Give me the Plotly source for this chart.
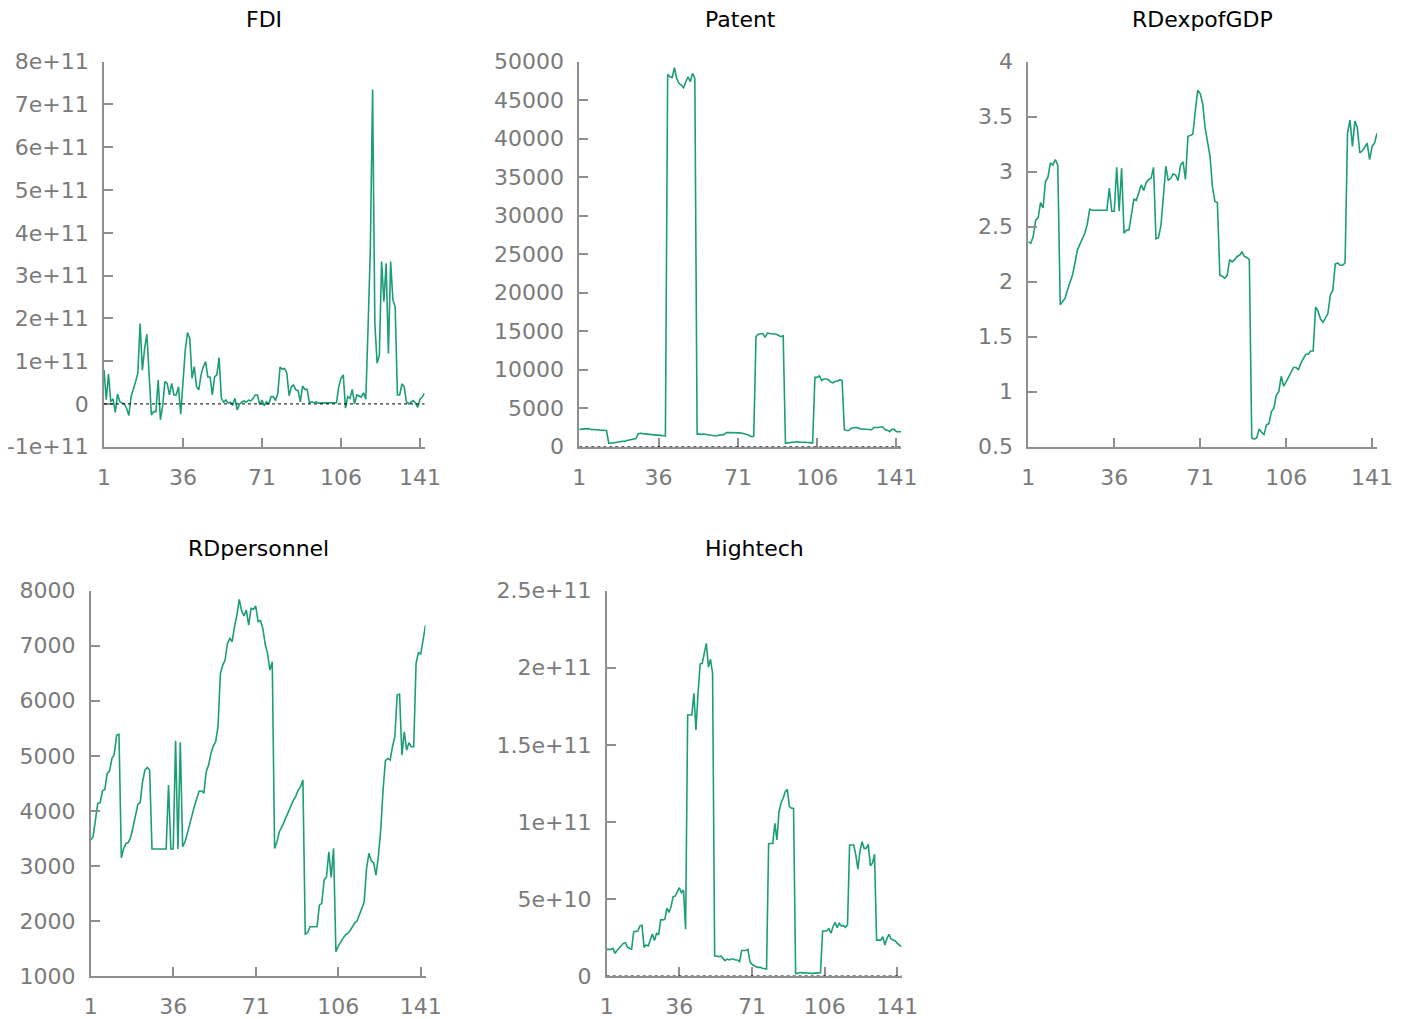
import plotly.graph_objects as go

# ---------------- data (143 observations, index 1..143) ----------------
FDI_e11 = [0.8, 0.1, 0.7, 0.05, 0.12, -0.2, 0.23, 0.05, 0.02, 0,
           -0.1, -0.27, 0.17, 0.33, 0.52, 0.72, 1.88, 0.79, 1.3, 1.63,
           0.52, -0.26, -0.18, -0.18, 0.56, -0.37, -0.04, 0.52, 0.48, 0.21,
           0.48, 0.21, 0.21, 0.4, -0.24, 0.63, 1.26, 1.67, 1.53, 0.6,
           0.87, 0.4, 0.33, 0.68, 0.87, 0.99, 0.63, 0.63, 0.21, 0.63,
           0.68, 1.08, 0.13, 0.04, 0.09, 0.02, 0.04, -0.02, 0.13, -0.14,
           -0.01, 0.04, 0.07, 0.04, 0.09, 0.07, 0.12, 0.21, 0.21, -0.02,
           0.09, -0.04, 0.05, -0.01, 0.17, 0.17, 0.08, 0.25, 0.86, 0.81,
           0.83, 0.72, 0.19, 0.4, 0.44, 0.33, 0.31, 0.05, 0.42, 0.34,
           0.34, 0.03, 0.05, 0.03, 0.05, 0.02, 0.02, 0.02, 0.03, 0.03,
           0.03, 0.03, 0.03, 0.03, 0.4, 0.6, 0.68, -0.1, 0.17, 0.13,
           0.34, 0, 0.21, 0.19, 0.16, 0.26, 0.11, 1.8, 3.6, 7.35,
           1.88, 0.95, 1.14, 3.33, 2.39, 3.29, 1.18, 3.33, 2.43, 2.27,
           0.21, 0.21, 0.47, 0.4, 0.05, 0, 0.05, 0.08, 0.02, -0.08, 0.11, 0.16, 0.25]

Patent = [2250, 2300, 2300, 2300, 2350, 2250, 2250, 2200, 2200, 2150, 2150, 2100, 2100,
          450, 450, 500, 550, 650, 650, 700, 700, 800, 850, 950, 1000, 1050,
          1700, 1750, 1700, 1650, 1650, 1650, 1600, 1550, 1500, 1500, 1450, 1450, 1400,
          48350, 48050, 47960, 49220, 47830, 47190, 46970, 46620, 47400, 48050, 47400, 48480, 47830,
          1600, 1650, 1600, 1650, 1600, 1550, 1500, 1400, 1400, 1450, 1500, 1500, 1600,
          1850, 1850, 1850, 1850, 1850, 1800, 1800, 1750, 1700, 1600, 1450, 1300, 1350,
          14300, 14600, 14700, 14700, 14200, 14750, 14700, 14650, 14700, 14600, 14450, 14300, 14400,
          450, 500, 550, 600, 650, 650, 600, 600, 600, 550, 550, 500, 500,
          9000, 9000, 9200, 8600, 8800, 8800, 8700, 8400, 8300, 8500, 8500, 8700, 8600,
          2200, 2100, 2100, 2400, 2500, 2500, 2450, 2300, 2300, 2250, 2250, 2200, 2200,
          2500, 2450, 2500, 2550, 2550, 2200, 2150, 1950, 2250, 2250, 1950, 1950, 1950]

RDexpofGDP = [2.36, 2.35, 2.41, 2.56, 2.58, 2.72, 2.67, 2.91, 2.95, 3.08, 3.06, 3.11, 3.06,
              1.79, 1.82, 1.85, 1.93, 1.99, 2.06, 2.17, 2.29, 2.34, 2.39, 2.44, 2.52, 2.66,
              2.65, 2.65, 2.65, 2.65, 2.65, 2.65, 2.65, 2.85, 2.64, 2.64, 3.04, 2.64, 3.03,
              2.44, 2.47, 2.47, 2.6, 2.75, 2.74, 2.81, 2.88, 2.83, 2.9, 2.93, 2.94, 3.04,
              2.39, 2.4, 2.51, 2.77, 3.05, 2.92, 2.94, 2.98, 2.97, 2.92, 3.06, 3.09, 2.93,
              3.32, 3.33, 3.34, 3.55, 3.74, 3.71, 3.62, 3.4, 3.27, 3.14, 2.86, 2.73, 2.72,
              2.06, 2.05, 2.03, 2.06, 2.2, 2.18, 2.2, 2.23, 2.24, 2.27, 2.23, 2.22, 2.2,
              0.58, 0.57, 0.58, 0.66, 0.63, 0.61, 0.7, 0.71, 0.82, 0.85, 0.97, 1.0, 1.14,
              1.05, 1.09, 1.13, 1.17, 1.22, 1.22, 1.2, 1.26, 1.3, 1.34, 1.34, 1.37, 1.37,
              1.77, 1.73, 1.66, 1.63, 1.67, 1.71, 1.88, 1.92, 2.16, 2.17, 2.15, 2.15, 2.17,
              3.35, 3.47, 3.23, 3.46, 3.4, 3.17, 3.19, 3.22, 3.26, 3.11, 3.23, 3.26, 3.35]

RDpersonnel = [3469, 3530, 3833, 4136, 4148, 4366, 4390, 4681, 4723, 4953, 5026, 5377, 5389,
               3149, 3318, 3409, 3427, 3530, 3712, 3893, 4118, 4154, 4530, 4741, 4790, 4741,
               3306, 3306, 3306, 3306, 3306, 3306, 3306, 4469, 3306, 3306, 5275, 3306, 5245,
               3348, 3439, 3591, 3772, 3924, 4087, 4227, 4360, 4360, 4330, 4711, 4832, 5044,
               5178, 5256, 5529, 6498, 6649, 6740, 7043, 7134, 7073, 7346, 7558, 7843, 7637,
               7540, 7649, 7376, 7679, 7661, 7721, 7437, 7455, 7316, 7031, 6861, 6558, 6710,
               3318, 3439, 3621, 3700, 3803, 3906, 4015, 4105, 4196, 4269, 4378, 4439, 4560,
               1761, 1785, 1895, 1895, 1895, 1895, 2288, 2319, 2743, 2803, 3257, 2791, 3318,
               1440, 1543, 1622, 1683, 1743, 1773, 1822, 1895, 1967, 2004, 2137, 2228, 2349,
               2955, 3228, 3094, 3058, 2834, 3167, 3651, 4378, 4911, 4953, 4923, 5165, 5347,
               6104, 6122, 5014, 5437, 5105, 5238, 5165, 5165, 6680, 6873, 6849, 7116, 7376]

Hightech_e10 = [1.73, 1.73, 1.73, 1.8, 1.47, 1.65, 1.8, 1.95, 2.12, 2.16, 1.86, 1.8, 1.73,
                2.88, 2.88, 2.92, 3.25, 3.29, 1.86, 2.01, 1.95, 2.34, 2.73, 2.3, 2.77, 2.66,
                3.64, 3.64, 3.68, 4.4, 4.12, 4.5, 5.15, 5.19, 5.48, 5.73, 5.41, 5.58, 3.03,
                16.93, 16.93, 16.93, 18.34, 15.96, 18.34, 20.24, 20.29, 21.04, 21.58, 20.03, 20.55, 19.64,
                1.3, 1.3, 1.25, 1.3, 1.15, 1.0, 1.1, 1.04, 1.1, 1.1, 1.04, 1.04, 0.93,
                1.65, 1.65, 1.65, 1.73, 0.93, 0.76, 0.67, 0.6, 0.56, 0.56, 0.5, 0.45, 0.45,
                8.6, 8.6, 8.6, 9.9, 8.83, 10.66, 11.25, 11.53, 11.96, 12.11, 10.99, 10.88, 10.88,
                0.17, 0.17, 0.22, 0.22, 0.2, 0.2, 0.18, 0.18, 0.17, 0.17, 0.18, 0.2, 0.22,
                2.92, 2.92, 2.92, 3.1, 2.77, 3.2, 3.48, 3.14, 3.42, 3.25, 3.27, 3.16, 3.31,
                8.5, 8.5, 8.5, 7.85, 6.94, 8.11, 8.71, 8.28, 8.28, 8.54, 7.16, 7.31, 7.9,
                2.33, 2.33, 2.33, 2.55, 2.01, 2.44, 2.7, 2.4, 2.33, 2.27, 2.12, 2.01, 1.9]

FDI = [v * 1e11 for v in FDI_e11]
Hightech = [v * 1e10 for v in Hightech_e10]
obs = list(range(1, len(FDI) + 1))

x_ticks = [1, 36, 71, 106, 141]

FDI_ticks = [-1e11, 0, 1e11, 2e11, 3e11, 4e11, 5e11, 6e11, 7e11, 8e11]
FDI_labels = ["-1e+11", "0", "1e+11", "2e+11", "3e+11", "4e+11", "5e+11", "6e+11", "7e+11", "8e+11"]
Patent_ticks = [0, 5000, 10000, 15000, 20000, 25000, 30000, 35000, 40000, 45000, 50000]
Patent_labels = [str(v) for v in Patent_ticks]
RDexp_ticks = [0.5, 1, 1.5, 2, 2.5, 3, 3.5, 4]
RDexp_labels = ["0.5", "1", "1.5", "2", "2.5", "3", "3.5", "4"]
RDpers_ticks = [1000, 2000, 3000, 4000, 5000, 6000, 7000, 8000]
RDpers_labels = [str(v) for v in RDpers_ticks]
HT_ticks = [0, 5e10, 1e11, 1.5e11, 2e11, 2.5e11]
HT_labels = ["0", "5e+10", "1e+11", "1.5e+11", "2e+11", "2.5e+11"]

titles = ["FDI", "Patent", "RDexpofGDP", "RDpersonnel", "Hightech"]

# ---------------- layout geometry (pixels of a 1412x1019 canvas) ----------------
W, H = 1412, 1019
LINE = "rgb(27,158,119)"
AXC = "#8f8f8f"
TXC = "#7a7a7a"
FONT = "DejaVu Sans"
FS = 22

def px_x(a, b):
    return [a / W, b / W]

def px_y(top, bottom):
    return [(H - bottom) / H, (H - top) / H]

panels = [
    (FDI, [-1e11, 8e11], FDI_ticks, FDI_labels, px_x(104, 424.5), px_y(61.7, 446.7), True),
    (Patent, [0, 50000], Patent_ticks, Patent_labels, px_x(579.3, 901), px_y(61.7, 446.7), True),
    (RDexpofGDP, [0.5, 4], RDexp_ticks, RDexp_labels, px_x(1028.3, 1377), px_y(61.7, 446.7), False),
    (RDpersonnel, [1000, 8000], RDpers_ticks, RDpers_labels, px_x(90.7, 425.5), px_y(590.7, 976), False),
    (Hightech, [0, 2.5e11], HT_ticks, HT_labels, px_x(606.7, 901.5), px_y(590.7, 976), True),
]

fig = go.Figure()
layout = dict(
    width=W, height=H, autosize=False,
    margin=dict(l=0, r=0, t=0, b=0, pad=0, autoexpand=False),
    paper_bgcolor="white", plot_bgcolor="white", showlegend=False,
    font=dict(family=FONT, size=FS, color=TXC),
)
shapes = []
annotations = []

for k, (ser, yr, yt, yl, xd, yd, zero) in enumerate(panels):
    n = k + 1
    xa = "x" if n == 1 else f"x{n}"
    ya = "y" if n == 1 else f"y{n}"
    fig.add_trace(go.Scatter(x=obs, y=ser, mode="lines", xaxis=xa, yaxis=ya,
                             line=dict(color=LINE, width=1.6), hoverinfo="skip"))
    axis_common = dict(showgrid=False, zeroline=False, showline=True, linecolor=AXC,
                       linewidth=1.6, ticks="inside", ticklen=9, tickwidth=1.6,
                       tickcolor=AXC, automargin=False,
                       tickfont=dict(family=FONT, size=FS, color=TXC))
    layout[f"xaxis{'' if n == 1 else n}"] = dict(
        domain=xd, range=[1, 143], anchor=ya, tickmode="array", tickvals=x_ticks,
        ticktext=[str(v) for v in x_ticks], ticklabelstandoff=10, **axis_common)
    layout[f"yaxis{'' if n == 1 else n}"] = dict(
        domain=yd, range=yr, anchor=xa, tickmode="array", tickvals=yt, ticktext=yl,
        ticklabelstandoff=9, **axis_common)
    if zero:
        shapes.append(dict(type="line", xref=f"{xa} domain", yref=ya, x0=0, x1=1, y0=0, y1=0,
                           line=dict(color="black", width=1, dash="dot")))
    annotations.append(dict(text=titles[k], xref="paper", yref="paper",
                            x=(xd[0] + xd[1]) / 2, y=yd[1] + 42 / H, xanchor="center",
                            yanchor="middle", showarrow=False,
                            font=dict(family=FONT, size=FS, color="black")))

layout["shapes"] = shapes
layout["annotations"] = annotations
fig.update_layout(**layout)

fig.write_html("out.html", config={"displayModeBar": False},
               post_script="document.documentElement.style.margin='0';document.body.style.margin='0';")
